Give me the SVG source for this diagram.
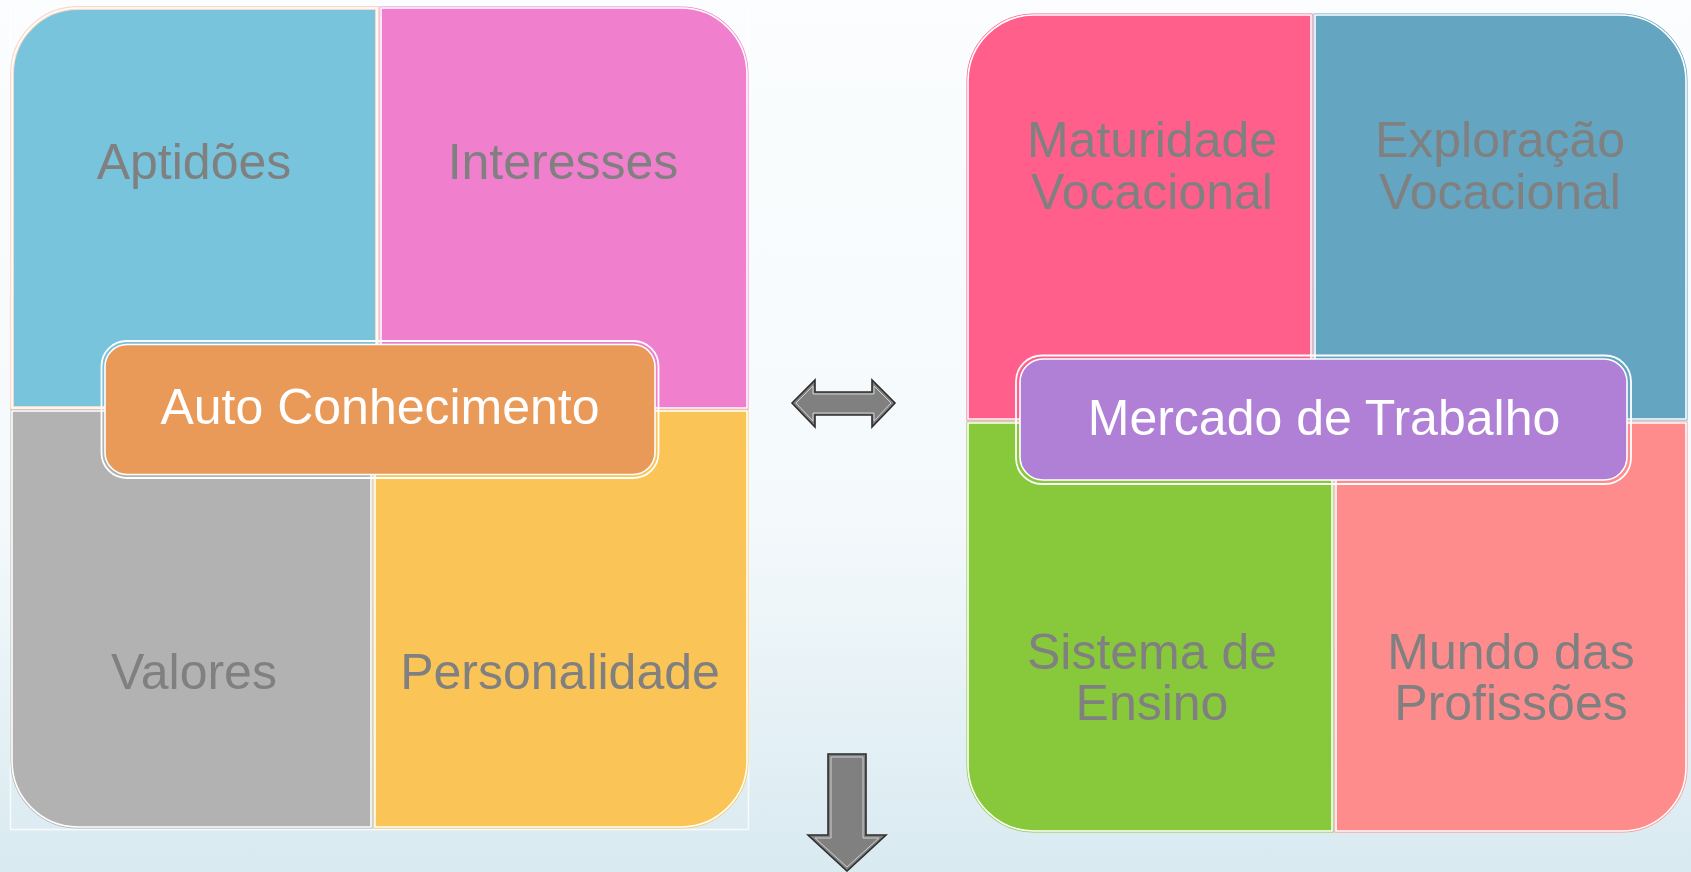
<svg xmlns="http://www.w3.org/2000/svg" width="1691" height="872" viewBox="0 0 1691 872">
<defs>
<linearGradient id="bg" x1="0" y1="0" x2="0" y2="1">
<stop offset="0" stop-color="#FBFDFE"/>
<stop offset="0.6" stop-color="#F4F9FB"/>
<stop offset="1" stop-color="#D9EAF1"/>
</linearGradient>
<style>
.q{font-family:"Liberation Sans",Arial,sans-serif;font-size:50px;fill:#808080;text-anchor:middle}
.c{font-family:"Liberation Sans",Arial,sans-serif;font-size:50px;fill:#FFFFFF;text-anchor:middle}
.edge{fill:none;stroke:#FFFFFF;stroke-width:1.6}
.ring{fill:none;stroke:#FFFFFF;stroke-width:1.8}
.arrow{fill:#808080;stroke:#2E2E2E;stroke-width:1.6;stroke-linejoin:miter}
.arrowin{fill:none;stroke:#D0D0D0;stroke-width:1}
</style>
</defs>
<rect x="0" y="0" width="1691" height="872" fill="url(#bg)"/>

<g id="left-group">
<rect x="10.5" y="6.5" width="738" height="823" fill="none" stroke="#FFFFFF" stroke-width="1.5" opacity="0.8"/>
<g id="aptidoes">
<path d="M12,408 V74 A66,66 0 0 1 78,8 H377 V408 Z" fill="#78C4DC" stroke="#F6D9C8" stroke-width="4"/>
<path class="edge" d="M12,408 V74 A66,66 0 0 1 78,8 H377 V408 Z"/>
<text class="q" x="194" y="179">Aptidões</text>
</g>
<g id="interesses">
<path d="M381,8 H681 A66,66 0 0 1 747,74 V408 H381 Z" fill="#F080CE" stroke="#F080CE" stroke-width="3"/>
<path class="edge" d="M381,8 H681 A66,66 0 0 1 747,74 V408 H381 Z"/>
<text class="q" x="563" y="179">Interesses</text>
</g>
<g id="valores">
<path d="M12,411 H371 V827 H78 A66,66 0 0 1 12,761 Z" fill="#B2B2B2" stroke="#B2B2B2" stroke-width="3"/>
<path class="edge" d="M12,411 H371 V827 H78 A66,66 0 0 1 12,761 Z"/>
<text class="q" x="194" y="689">Valores</text>
</g>
<g id="personalidade">
<path d="M375,411 H747 V761 A66,66 0 0 1 681,827 H375 Z" fill="#FBC457" stroke="#FBC457" stroke-width="3"/>
<path class="edge" d="M375,411 H747 V761 A66,66 0 0 1 681,827 H375 Z"/>
<text class="q" x="560" y="689">Personalidade</text>
</g>
<g id="auto-conhecimento">
<rect class="ring" x="101.5" y="341" width="557" height="137" rx="25"/>
<rect x="105" y="344.5" width="550" height="130" rx="22" fill="#E99A59" stroke="#FFFFFF" stroke-width="1.6"/>
<text class="c" x="380" y="424">Auto Conhecimento</text>
</g>
</g>

<g id="right-group">
<g id="maturidade">
<path d="M968,419 V81 A66,66 0 0 1 1034,15 H1311 V419 Z" fill="#FF5F8A" stroke="#FF5F8A" stroke-width="3"/>
<path class="edge" d="M968,419 V81 A66,66 0 0 1 1034,15 H1311 V419 Z"/>
<text class="q" x="1152" y="157">Maturidade</text>
<text class="q" x="1152" y="209">Vocacional</text>
</g>
<g id="exploracao">
<path d="M1315,15 H1620 A66,66 0 0 1 1686,81 V419 H1315 Z" fill="#64A5C1" stroke="#64A5C1" stroke-width="3"/>
<path class="edge" d="M1315,15 H1620 A66,66 0 0 1 1686,81 V419 H1315 Z"/>
<text class="q" x="1500" y="157">Exploração</text>
<text class="q" x="1500" y="209">Vocacional</text>
</g>
<g id="sistema-ensino">
<path d="M968,423 H1332 V831 H1034 A66,66 0 0 1 968,765 Z" fill="#88C93C" stroke="#88C93C" stroke-width="3"/>
<path class="edge" d="M968,423 H1332 V831 H1034 A66,66 0 0 1 968,765 Z"/>
<text class="q" x="1152" y="669">Sistema de</text>
<text class="q" x="1152" y="720">Ensino</text>
</g>
<g id="mundo-profissoes">
<path d="M1336,423 H1686 V767 A64,64 0 0 1 1622,831 H1336 Z" fill="#FF8C8C" stroke="#FF8C8C" stroke-width="3"/>
<path class="edge" d="M1336,423 H1686 V767 A64,64 0 0 1 1622,831 H1336 Z"/>
<text class="q" x="1511" y="669">Mundo das</text>
<text class="q" x="1511" y="720">Profissões</text>
</g>
<g id="mercado-trabalho">
<rect class="ring" x="1016" y="355.5" width="615" height="128.5" rx="26"/>
<rect x="1020" y="359" width="607" height="121" rx="23" fill="#B080D6" stroke="#FFFFFF" stroke-width="1.6"/>
<text class="c" x="1324" y="435">Mercado de Trabalho</text>
</g>
</g>

<g id="connectors">
<path class="arrow" d="M792,403 L815,380 V392 H872 V380 L895,403 L872,427 V415 H815 V427 Z"/>
<path class="arrowin" d="M796,403 L813,386 V394 H874 V386 L891,403 L874,421 V413 H813 V421 Z"/>
<path class="arrow" d="M828,754 H866 V835 H886 L847,871 L808,835 H828 Z"/>
<path class="arrowin" d="M831,757 H863 V838 H879 L847,867 L815,838 H831 Z"/>
</g>
</svg>
